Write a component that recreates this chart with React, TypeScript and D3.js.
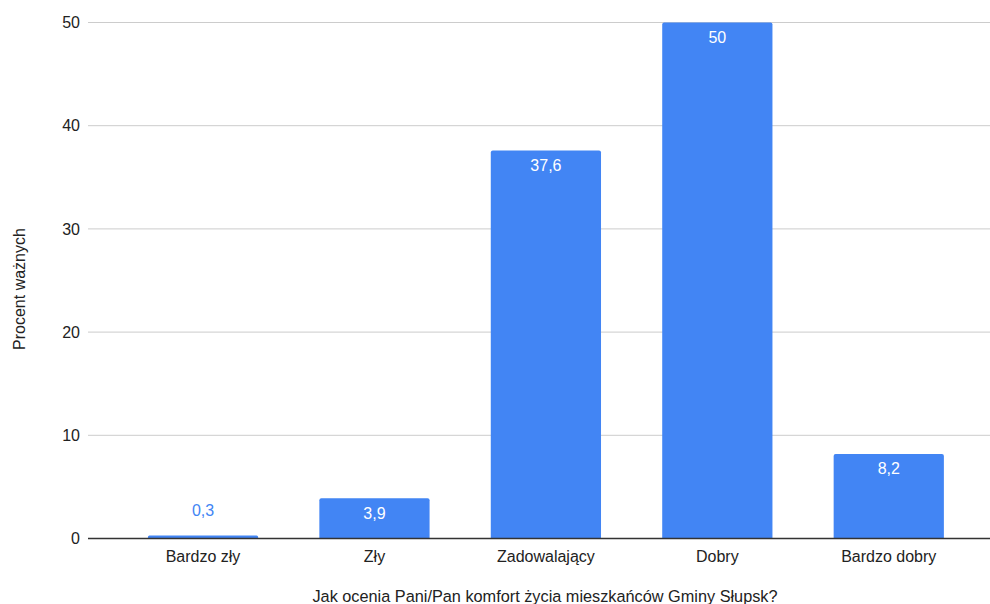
import React from "react";
import * as d3 from "d3";

const categories = ["Bardzo zły", "Zły", "Zadowalający", "Dobry", "Bardzo dobry"];
const values = [0.3, 3.9, 37.6, 50, 8.2];
const labels = ["0,3", "3,9", "37,6", "50", "8,2"];
const yTicks = [0, 10, 20, 30, 40, 50];
const yTitle = "Procent ważnych";
const xTitle = "Jak ocenia Pani/Pan komfort życia mieszkańców Gminy Słupsk?";

const W = 990;
const H = 604;
const gridLeft = 88;
const gridRight = 990;
const FONT = "'Liberation Sans', Arial, sans-serif";
const FS = 16;

export default function App() {
  const y = d3.scaleLinear().domain([0, 50]).range([538.5, 22.5]);
  const x = d3.scaleBand<string>().domain(categories).range([117.4, 974.4]).paddingInner(0.357).paddingOuter(0.178);
  const bw = x.bandwidth();
  return (
    <svg width={W} height={H} style={{ position: "absolute", left: 0, top: 0 }}>
      <rect width={W} height={H} fill="#fff" />
      {yTicks.map((t) => (
        <g key={t}>
          {t !== 0 && (
            <line x1={gridLeft} x2={gridRight} y1={y(t)} y2={y(t)} stroke="#cccccc" strokeWidth={1} />
          )}
          <text x={80} y={y(t)} dy="0.35em" textAnchor="end" fontFamily={FONT} fontSize={FS} fill="#222">
            {t}
          </text>
        </g>
      ))}
      {categories.map((c, i) => {
        const bx = x(c)!;
        const top = y(values[i]);
        const h = y(0) - top;
        const r = Math.min(2, h / 2);
        const path = `M${bx},${y(0)} V${top + r} Q${bx},${top} ${bx + r},${top} H${bx + bw - r} Q${bx + bw},${top} ${bx + bw},${top + r} V${y(0)} Z`;
        const inside = h > 25;
        return (
          <g key={c}>
            <path d={path} fill="#4285f4" />
            <text
              x={bx + bw / 2}
              y={inside ? top + 15 : top - 25}
              dy="0.35em"
              textAnchor="middle"
              fontFamily={FONT}
              fontSize={FS}
              fill={inside ? "#ffffff" : "#4285f4"}
            >
              {labels[i]}
            </text>
            <text x={bx + bw / 2} y={556} dy="0.35em" textAnchor="middle" fontFamily={FONT} fontSize={FS} fill="#222">
              {c}
            </text>
          </g>
        );
      })}
      <line x1={gridLeft} x2={gridRight} y1={y(0)} y2={y(0)} stroke="#333" strokeWidth={1.5} />
      <text
        transform={`translate(19,289) rotate(-90)`}
        dy="0.35em"
        textAnchor="middle"
        fontFamily={FONT}
        fontSize={FS}
        fill="#222"
      >
        {yTitle}
      </text>
      <text x={545} y={596} dy="0.35em" textAnchor="middle" fontFamily={FONT} fontSize={16.3} fill="#222">
        {xTitle}
      </text>
    </svg>
  );
}
